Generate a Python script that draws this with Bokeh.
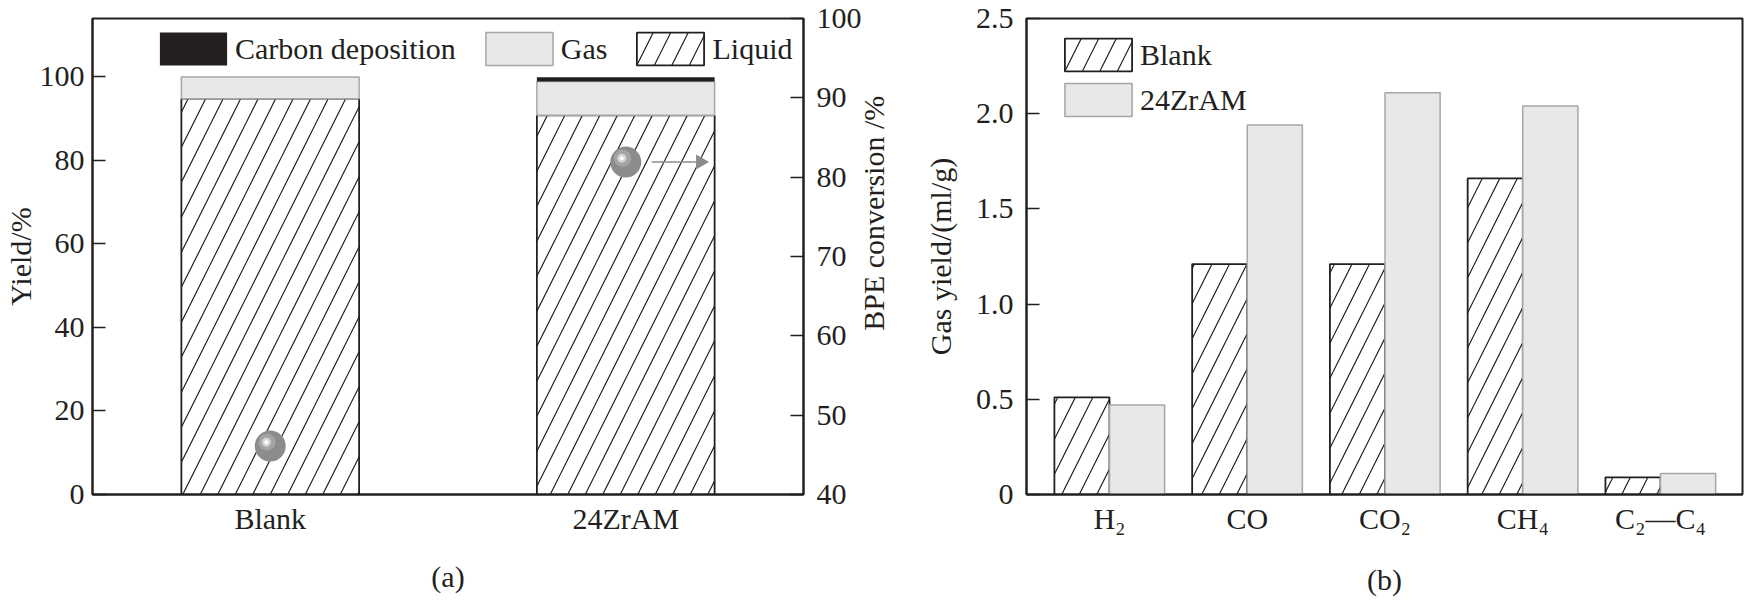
import numpy as np
import pandas as pd
from bokeh.plotting import figure
from bokeh.models import (ColumnDataSource, Range1d, LinearAxis, FixedTicker, Legend,
                          LegendItem, FactorRange, CustomJSTickFormatter, Label)
from bokeh.transform import dodge
from bokeh.layouts import row
from bokeh.embed import file_html
from bokeh.resources import INLINE

FONT = "Liberation Serif"
FS = "30px"
INK = "#231f20"
LIGHT = "#e8e8e8"
LIGHT_EDGE = "#a6a6a6"
SPHERE = "#8c8c8c"

# ---------------- data (a) ----------------
samples = ["Blank", "24ZrAM"]
liquid_yield = [94.8, 90.8]
gas_yield_a = [5.2, 8.1]
carbon_yield = [0.0, 1.0]
bpe_conversion = [46.1, 81.9]
yield_ticks = [0, 20, 40, 60, 80, 100]
conversion_ticks = [40, 50, 60, 70, 80, 90, 100]

# ---------------- data (b) ----------------
gas_species = ["H₂", "CO", "CO₂", "CH₄", "C₂—C₄"]
gas_blank = [0.51, 1.21, 1.21, 1.66, 0.09]
gas_24zram = [0.47, 1.94, 2.11, 2.04, 0.11]
gas_ticks = [0, 0.5, 1.0, 1.5, 2.0, 2.5]

HEIGHT = 605
TOP = 18
BOTTOM = HEIGHT - 494
HATCH = dict(hatch_pattern="/", hatch_color=INK, hatch_weight=1.2, hatch_scale=35)


def style_axis(ax):
    ax.axis_line_color = INK
    ax.axis_line_width = 2
    ax.major_tick_line_color = INK
    ax.major_tick_line_width = 1.5
    ax.minor_tick_line_color = None
    ax.major_label_text_font = FONT
    ax.major_label_text_font_size = FS
    ax.major_label_text_color = INK
    ax.axis_label_text_font = FONT
    ax.axis_label_text_font_size = FS
    ax.axis_label_text_color = INK
    ax.axis_label_text_font_style = "normal"


def base_style(p):
    p.xgrid.visible = False
    p.ygrid.visible = False
    p.outline_line_color = INK
    p.outline_line_width = 2
    p.background_fill_color = "white"
    p.border_fill_color = "white"


# ================= panel (a) =================
df_a = pd.DataFrame(dict(sample=samples, liquid=liquid_yield, gas=gas_yield_a,
                         carbon=carbon_yield, conv=bpe_conversion))
df_a["gas_top"] = df_a["liquid"] + df_a["gas"]
df_a["carbon_top"] = df_a["gas_top"] + df_a["carbon"]
df_a["conv_hi"] = df_a["conv"] + 0.5
src_a = ColumnDataSource(df_a)
src_arrow = ColumnDataSource(df_a[df_a["sample"] == "24ZrAM"])

WA = 864
pa = figure(width=WA, height=HEIGHT, x_range=FactorRange(*samples),
            y_range=Range1d(0, 114.0), output_backend="svg", toolbar_location=None,
            min_border_left=91, min_border_right=WA - 805, min_border_top=TOP,
            min_border_bottom=BOTTOM)
base_style(pa)
pa.extra_y_ranges = {"conv": Range1d(40, 100)}

r_liq = pa.vbar(x="sample", top="liquid", bottom=0, width=0.5, source=src_a,
                fill_color="white", line_color=INK, line_width=1.8, **HATCH)
r_gas = pa.vbar(x="sample", bottom="liquid", top="gas_top", width=0.5, source=src_a,
                fill_color=LIGHT, line_color=LIGHT_EDGE, line_width=1.5)
r_carbon = pa.vbar(x="sample", bottom="gas_top", top="carbon_top", width=0.5,
                   source=src_a, fill_color=INK, line_color=None)

# conversion spheres
pa.scatter(x="sample", y="conv", y_range_name="conv", source=src_a, size=31,
           fill_color=SPHERE, line_color=None)
pa.scatter(x=dodge("sample", -0.009, range=pa.x_range), y="conv_hi", y_range_name="conv",
           source=src_a, size=17, fill_color="#a4a4a4", line_color=None)
pa.scatter(x=dodge("sample", -0.011, range=pa.x_range), y="conv_hi", y_range_name="conv",
           source=src_a, size=9, fill_color="#d6d6d6", line_color=None)
pa.scatter(x=dodge("sample", -0.011, range=pa.x_range), y="conv_hi", y_range_name="conv",
           source=src_a, size=4, fill_color="white", line_color=None)
# arrow towards right axis
pa.segment(x0=dodge("sample", 0.073, range=pa.x_range), y0="conv",
           x1=dodge("sample", 0.205, range=pa.x_range), y1="conv",
           y_range_name="conv", source=src_arrow, line_color=SPHERE, line_width=1.5)
pa.scatter(x=dodge("sample", 0.21, range=pa.x_range), y="conv", y_range_name="conv",
           source=src_arrow, marker="triangle", angle=-np.pi / 2, size=15,
           fill_color=SPHERE, line_color=None)

xa = pa.xaxis[0]
style_axis(xa)
xa.major_tick_in = 0
xa.major_tick_out = 0
xa.major_tick_line_color = None
xa.major_label_standoff = 7
xa.axis_label = "(a)"
xa.axis_label_standoff = 22

ya = pa.yaxis[0]
style_axis(ya)
ya.ticker = FixedTicker(ticks=yield_ticks)
ya.major_tick_in = 13
ya.major_tick_out = 0
ya.major_label_standoff = 8
ya.axis_label = "Yield/%"
ya.axis_label_standoff = 0

ra = LinearAxis(y_range_name="conv", ticker=FixedTicker(ticks=conversion_ticks))
style_axis(ra)
ra.major_tick_in = 13
ra.major_tick_out = 0
ra.major_label_standoff = 13
pa.add_layout(ra, "right")

leg_a = Legend(items=[LegendItem(label="Carbon deposition", renderers=[r_carbon]),
                      LegendItem(label="Gas", renderers=[r_gas]),
                      LegendItem(label="Liquid", renderers=[r_liq])],
               orientation="horizontal", location=(59, 425),
               glyph_width=84, glyph_height=41, label_standoff=0, spacing=21,
               padding=0, margin=0, label_height=41,
               border_line_alpha=0, background_fill_alpha=0,
               label_text_font=FONT, label_text_font_size=FS, label_text_color=INK)
pa.add_layout(leg_a)

# ============ transparent strip holding the right-axis title of (a) ============
OVERLAP = 12
MID_W = 50 + OVERLAP
pm = figure(width=MID_W, height=HEIGHT, x_range=Range1d(0, MID_W), y_range=Range1d(0, HEIGHT),
            x_axis_location=None, y_axis_location=None, output_backend="svg",
            toolbar_location=None, min_border=0, margin=(0, 0, 0, -OVERLAP))
pm.grid.visible = False
pm.outline_line_color = None
pm.background_fill_alpha = 0
pm.border_fill_alpha = 0
pm.add_layout(Label(x=21, y=HEIGHT - 247.5, text="BPE conversion /%", angle=np.pi / 2,
                    text_align="center", text_baseline="middle", text_font=FONT,
                    text_font_size=FS, text_color=INK))

# ================= panel (b) =================
src_b = ColumnDataSource(dict(idx=list(range(len(gas_species))), species=gas_species,
                              blank=gas_blank, zr=gas_24zram))

PB_X0 = WA + MID_W - OVERLAP
WB = 1744 - PB_X0
pb = figure(width=WB, height=HEIGHT,
            x_range=Range1d(-0.6025, len(gas_species) - 1 + 0.595),
            y_range=Range1d(0, 2.5), output_backend="svg", toolbar_location=None,
            min_border_left=1026 - PB_X0, min_border_right=2, min_border_top=TOP,
            min_border_bottom=BOTTOM)
base_style(pb)

r_b1 = pb.vbar(x=dodge("idx", -0.2), top="blank", width=0.4, source=src_b,
               fill_color="white", line_color=INK, line_width=1.8, **HATCH)
r_b2 = pb.vbar(x=dodge("idx", 0.2), top="zr", width=0.4, source=src_b,
               fill_color=LIGHT, line_color=LIGHT_EDGE, line_width=1.5)

xb = pb.xaxis[0]
style_axis(xb)
xb.ticker = FixedTicker(ticks=list(range(len(gas_species))))
xb.formatter = CustomJSTickFormatter(args=dict(labels=gas_species),
                                     code="return labels[Math.round(tick)] || '';")
xb.major_tick_in = 0
xb.major_tick_out = 0
xb.major_tick_line_color = None
xb.major_label_standoff = 7
xb.axis_label = "(b)"
xb.axis_label_standoff = 25

yb = pb.yaxis[0]
style_axis(yb)
yb.ticker = FixedTicker(ticks=gas_ticks)
yb.formatter = CustomJSTickFormatter(code="return tick === 0 ? '0' : tick.toFixed(1);")
yb.major_tick_in = 13
yb.major_tick_out = 0
yb.major_label_standoff = 13
yb.axis_label = "Gas yield/(ml/g)"
yb.axis_label_standoff = 16

leg_b = Legend(items=[LegendItem(label="Blank", renderers=[r_b1]),
                      LegendItem(label="24ZrAM", renderers=[r_b2])],
               orientation="vertical", location=(30, 374),
               glyph_width=84, glyph_height=41, label_standoff=0, spacing=4,
               padding=0, margin=0, label_height=41,
               border_line_alpha=0, background_fill_alpha=0,
               label_text_font=FONT, label_text_font_size=FS, label_text_color=INK)
pb.add_layout(leg_b)

layout = row(pa, pm, pb)
open("out.html", "w").write(file_html(layout, INLINE))
